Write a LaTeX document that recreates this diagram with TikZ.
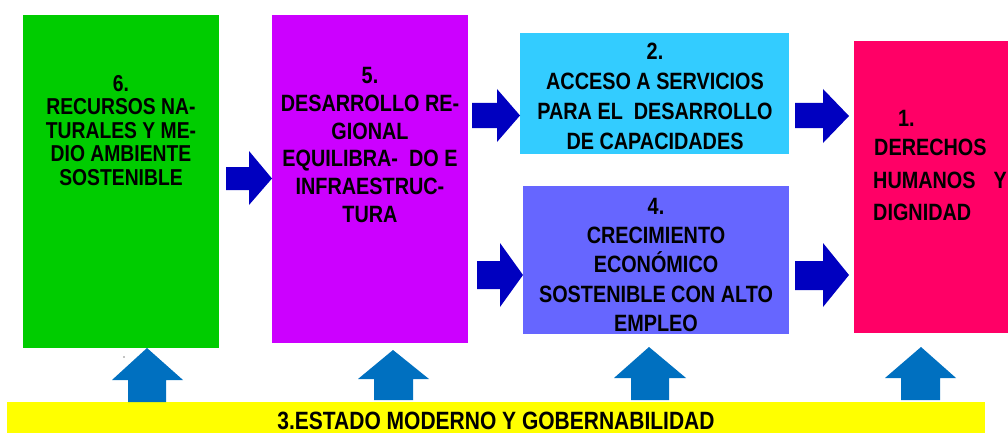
\documentclass[tikz,border=0pt]{standalone}
\usepackage{fontspec}
\setmainfont{Liberation Sans}[FakeStretch=0.84]
\definecolor{cgreen}{HTML}{00CC00}
\definecolor{cpurple}{HTML}{CC00FF}
\definecolor{ccyan}{HTML}{33CCFF}
\definecolor{cviolet}{HTML}{6666FF}
\definecolor{cpink}{HTML}{FF0066}
\definecolor{cyell}{HTML}{FFFF00}
\definecolor{darr}{HTML}{0000C0}
\definecolor{uarr}{HTML}{0070C0}
\begin{document}
\begin{tikzpicture}[x=1pt,y=-1pt,
  box/.style={draw=none,inner sep=0pt,outer sep=0pt,anchor=north west},
  txt/.style={inner sep=0pt,align=center,anchor=north,text=black},
  lbl/.style={inner sep=0pt,font=\bfseries\fontsize{23.6}{27}\selectfont},
  rarr/.style={fill=darr},
  uparr/.style={fill=uarr}]
\useasboundingbox[fill=white] (0,0) rectangle (1008,433);
% boxes
\node[box,fill=cgreen,minimum width=196pt,minimum height=333pt] (b6) at (23,15) {};
\node[box,fill=cpurple,minimum width=196pt,minimum height=328pt] (b5) at (272,15) {};
\node[box,fill=ccyan,minimum width=269pt,minimum height=121pt] (b2) at (520,33) {};
\node[box,fill=cviolet,minimum width=266pt,minimum height=148pt] (b4) at (523,186) {};
\node[box,fill=cpink,minimum width=154pt,minimum height=292pt] (b1) at (854,41) {};
\node[box,fill=cyell,minimum width=978pt,minimum height=31pt] (b3) at (7,402) {};
% texts
\node[txt,font=\bfseries\fontsize{23}{23.5}\selectfont] (t6) at (121,75)
  {6.\\RECURSOS NA-\\TURALES Y ME-\\DIO AMBIENTE\\SOSTENIBLE};
\node[txt,font=\bfseries\fontsize{23.6}{27.8}\selectfont] (t5) at (370,67)
  {5.\\DESARROLLO RE-\\GIONAL\\EQUILIBRA-\ \ DO E\\INFRAESTRUC-\\TURA};
\node[txt,font=\bfseries\fontsize{23.6}{30}\selectfont] (t2) at (655,43)
  {2.\\ACCESO A SERVICIOS\\PARA EL\ \ DESARROLLO\\DE CAPACIDADES};
\node[txt,font=\bfseries\fontsize{23.6}{29.2}\selectfont] (t4) at (656,198)
  {4.\\CRECIMIENTO\\ECONÓMICO\\SOSTENIBLE CON ALTO\\EMPLEO};
\node[lbl,anchor=base west] (t1a) at (898,127) {1.};
\node[lbl,anchor=base west] (t1b) at (874,155) {DERECHOS};
\node[lbl,anchor=base west] (t1c) at (873,188) {HUMANOS};
\node[lbl,anchor=base east] (t1d) at (1007,188) {Y};
\node[lbl,anchor=base west] (t1e) at (873,220) {DIGNIDAD};
\node[inner sep=0pt,anchor=base,font=\bfseries\fontsize{25}{27}\selectfont] (t3) at (496,429)
  {3.ESTADO MODERNO Y GOBERNABILIDAD};
% right arrows
\fill[rarr] (226,167) -- (249,167) -- (249,151) -- (272,178.5) -- (249,205) -- (249,190) -- (226,190) -- cycle;
\fill[rarr] (472,103) -- (497,103) -- (497,89) -- (520,115.5) -- (497,142) -- (497,128) -- (472,128) -- cycle;
\fill[rarr] (477,261) -- (500,261) -- (500,243) -- (523,275) -- (500,307) -- (500,289) -- (477,289) -- cycle;
\fill[rarr] (795,103) -- (823,103) -- (823,89) -- (849,116) -- (823,143) -- (823,128) -- (795,128) -- cycle;
\fill[rarr] (795,261) -- (823,261) -- (823,243) -- (849,275) -- (823,307) -- (823,290) -- (795,290) -- cycle;
% up arrows
\fill[uparr] (128,402) -- (128,380) -- (112,380) -- (147,348) -- (183,380) -- (166,380) -- (166,402) -- cycle;
\fill[uparr] (374,400) -- (374,379) -- (358,379) -- (393,350) -- (429,379) -- (413,379) -- (413,400) -- cycle;
\fill[uparr] (631,400) -- (631,378) -- (614,378) -- (649,347) -- (686,378) -- (669,378) -- (669,400) -- cycle;
\fill[uparr] (901,400) -- (901,378) -- (885,378) -- (921,347) -- (956,378) -- (940,378) -- (940,400) -- cycle;
\fill[black] (124,357) circle (0.6);
\end{tikzpicture}
\end{document}
